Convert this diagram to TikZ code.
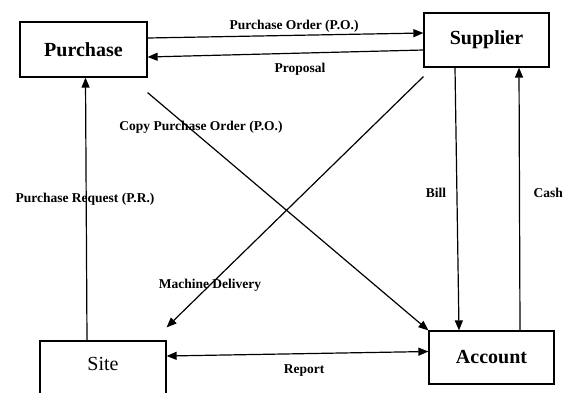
\documentclass[tikz,border=0pt]{standalone}
\usepackage{fontspec}
\setmainfont{Liberation Serif}
\usetikzlibrary{arrows.meta}
\begin{document}
\begin{tikzpicture}[x=1pt,y=-1pt,
  entity/.style={draw,line width=1.2pt,inner sep=0pt,
    font=\fontsize{20}{24}\selectfont\bfseries},
  flow/.style={line width=1.2pt,-{Triangle[length=10pt,width=8pt]}},
  twoway/.style={line width=1.2pt,{Triangle[length=10pt,width=8pt]}-{Triangle[length=10pt,width=8pt]}},
  tag/.style={font=\fontsize{13.5}{16}\selectfont\bfseries,inner sep=0pt}]
\useasboundingbox (0,0) rectangle (564,392);

% the four parties
\node[entity,minimum width=127pt,minimum height=55pt] (purchase) at (83.5,49.5) {Purchase};
\node[entity,minimum width=125pt,minimum height=54pt] (supplier) at (486.5,40) {Supplier};
\node[entity,font=\fontsize{20}{24}\selectfont,minimum width=126pt,minimum height=55pt,
      text height=29pt,text depth=26pt] (site) at (103,368.5) {Site};
\node[entity,minimum width=125pt,minimum height=53pt] (account) at (491.5,357.5) {Account};

% free ends of the two diagonal flows
\coordinate (cpostart) at ([yshift=-15pt]purchase.south east);
\coordinate (mdstart) at ([yshift=-9pt]supplier.south west);
\coordinate (mdend) at ([yshift=13pt]site.north east);

% flows between the parties
\draw[flow] ([yshift=11.5pt]purchase.east) -- ([yshift=7pt]supplier.west);
\draw[flow] ([yshift=-10pt]supplier.west) -- ([yshift=-7.5pt]purchase.east);
\draw[flow] (cpostart) -- (account.north west);
\draw[flow] (mdstart) -- (mdend);
\draw[flow] ([xshift=-16pt]site.north) -- ([xshift=2pt]purchase.south);
\draw[flow] ([xshift=-31.5pt]supplier.south) -- ([xshift=-32.5pt]account.north);
\draw[flow] ([xshift=28.5pt]account.north) -- ([xshift=32.5pt]supplier.south);
\draw[twoway] ([yshift=12.5pt]site.east) -- ([yshift=6pt]account.west);

% flow labels
\node[tag] (lpo) at (294,26) {Purchase Order (P.O.)};
\node[tag] (lprop) at (300,69) {Proposal};
\node[tag] (lcpo) at (201,127) {Copy Purchase Order (P.O.)};
\node[tag] (lpr) at (85,199) {Purchase Request (P.R.)};
\node[tag] (lbill) at (436,193) {Bill};
\node[tag,anchor=east] (lcash) at (563,193) {Cash};
\node[tag] (lmd) at (210,285) {Machine Delivery};
\node[tag] (lrep) at (304,371) {Report};
\end{tikzpicture}
\end{document}
